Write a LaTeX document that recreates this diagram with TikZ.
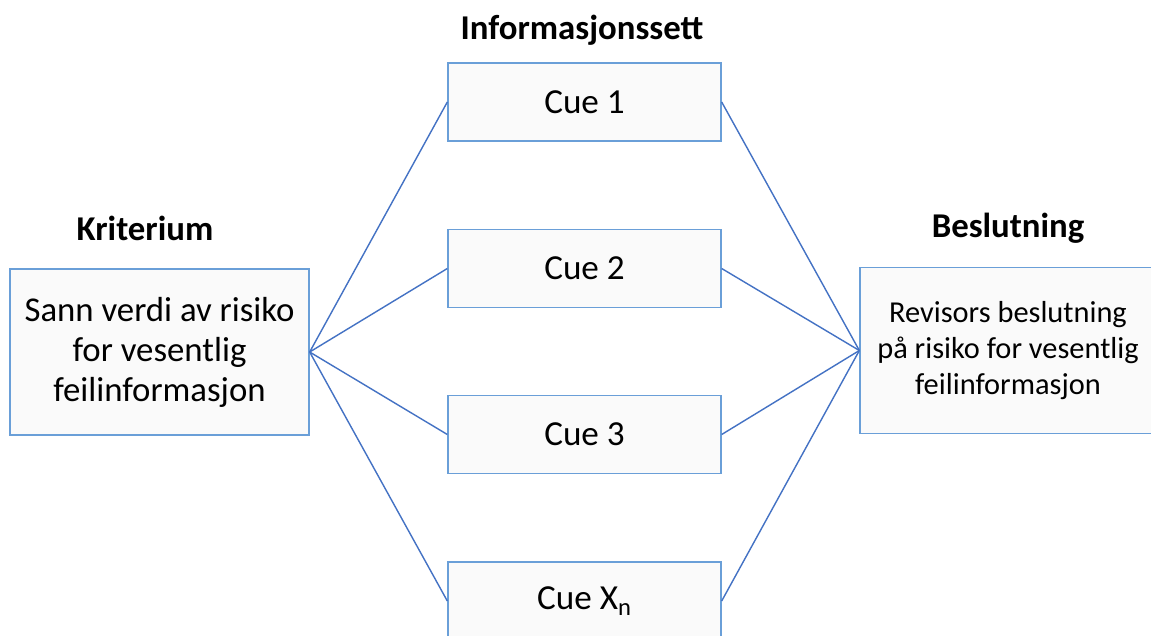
\documentclass[tikz,border=0pt]{standalone}
\usepackage{fontspec}
\setmainfont{Carlito}
\usepackage{tikz}
\usetikzlibrary{positioning}
\definecolor{boxline}{HTML}{6A9FD8}
\definecolor{linkline}{HTML}{4472C4}
\tikzset{
  box/.style    ={draw=boxline,thick,fill=black!2,inner sep=2pt,align=center},
  cue/.style    ={box,minimum width=5.46cm,minimum height=1.56cm,font=\fontsize{20}{24}\selectfont},
  endbox/.style ={box,minimum height=3.32cm},
  head/.style   ={font=\fontsize{19.8}{23}\selectfont\bfseries},
  link/.style   ={linkline,thick},
}

\begin{document}
\begin{tikzpicture}[x=0.02cm,y=-0.02cm]
  \clip (0,0) rectangle (1151,635);
  \useasboundingbox (0,0) rectangle (1151,635);
  \fill[white] (0,0) rectangle (1151,635);
  \node[endbox,minimum width=5.98cm,font=\fontsize{19.8}{22.8}\selectfont](krit) at (159.5,352)
    {Sann verdi av risiko\\for vesentlig\\feilinformasjon};
  \node[endbox,minimum width=5.92cm,font=\fontsize{17.3}{20.5}\selectfont](besl) at (1008,350.5)
    {Revisors beslutning\\på risiko for vesentlig\\feilinformasjon};
  \node[cue](cue1) at (584.5,102){Cue 1};
  \node[cue](cue2) at (584.5,268.5){Cue 2};
  \node[cue](cue3) at (584.5,434.5){Cue 3};
  \node[cue](cuen) at (584.5,601){Cue X\textsubscript{n}};
  \node[head](hkrit) at (145,228){Kriterium};
  \node[head](hinfo) at (582,30){Informasjonssett};
  \node[head](hbesl) at (1008,228){Beslutning};
  \foreach \c in {cue1,cue2,cue3,cuen}{\draw[link](krit.east)--(\c.west); \draw[link](besl.west)--(\c.east);}
\end{tikzpicture}
\end{document}
